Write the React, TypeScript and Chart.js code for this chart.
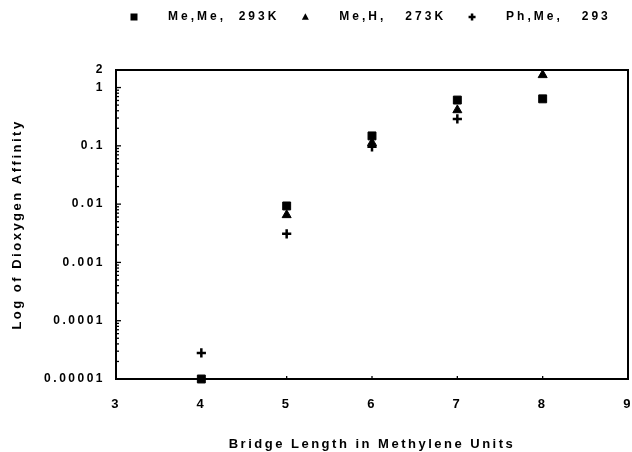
import React, { useEffect, useRef } from 'react';
import { Chart, registerables } from 'chart.js';

Chart.register(...registerables);

// ---- data ----
const bridgeLengths = [4, 5, 6, 7, 8];
const meMe293K: (number | null)[] = [0.00001, 0.0093, 0.148, 0.61, 0.64];
const meH273K: (number | null)[] = [null, 0.0065, 0.112, 0.41, 1.64];
const phMe293: (number | null)[] = [0.000028, 0.0031, 0.096, 0.29, null];
const seriesLabels = ['Me,Me,  293K', 'Me,H,   273K', 'Ph,Me,   293'];
const seriesStyles = ['rect', 'triangle', 'cross'];
const xTickValues = [3, 4, 5, 6, 7, 8, 9];
const yTickValues = [0.00001, 0.0001, 0.001, 0.01, 0.1, 1, 2];
const yTickLabels = ['0.00001', '0.0001', '0.001', '0.01', '0.1', '1', '2'];
const xTitle = 'Bridge Length in Methylene Units';
const yTitle = 'Log of Dioxygen Affinity';

const FONT = '"Liberation Sans", Arial, Helvetica, sans-serif';
const SPACING = '2.5px';

function toPoints(values: (number | null)[]) {
  const pts: { x: number; y: number }[] = [];
  values.forEach((v, i) => {
    if (v !== null) pts.push({ x: bridgeLengths[i], y: v });
  });
  return pts;
}

const spacingPlugin = {
  id: 'letterSpacing',
  beforeUpdate(chart: any) {
    chart.ctx.letterSpacing = SPACING;
  },
  beforeDraw(chart: any) {
    chart.ctx.letterSpacing = SPACING;
  },
};

const framePlugin = {
  id: 'frame',
  beforeDatasetsDraw(chart: any) {
    const { ctx, chartArea: a, scales } = chart;
    ctx.save();
    ctx.strokeStyle = '#000';
    ctx.lineWidth = 2;
    ctx.strokeRect(a.left, a.top, a.right - a.left, a.bottom - a.top);
    const ys = scales.y;
    ctx.lineWidth = 1.3;
    for (let e = -5; e <= 0; e++) {
      for (let m = 1; m <= 9; m++) {
        const v = m * Math.pow(10, e);
        if (v > 2) break;
        const py = ys.getPixelForValue(v);
        const len = m === 1 ? 5 : 3;
        ctx.beginPath();
        ctx.moveTo(a.left, py);
        ctx.lineTo(a.left + len, py);
        ctx.stroke();
      }
    }
    const xs = scales.x;
    xTickValues.forEach((t) => {
      const px = xs.getPixelForValue(t);
      ctx.beginPath();
      ctx.moveTo(px, a.bottom);
      ctx.lineTo(px, a.bottom - 3);
      ctx.stroke();
    });
    ctx.restore();
  },
};

function drawMarker(ctx: CanvasRenderingContext2D, style: string, x: number, y: number, r: number) {
  ctx.beginPath();
  if (style === 'rect') {
    ctx.fillRect(x - r, y - r, 2 * r, 2 * r);
  } else if (style === 'triangle') {
    ctx.moveTo(x, y - r * 1.1);
    ctx.lineTo(x + r, y + r * 0.8);
    ctx.lineTo(x - r, y + r * 0.8);
    ctx.closePath();
    ctx.fill();
  } else {
    ctx.lineWidth = 2.5;
    ctx.moveTo(x - r, y);
    ctx.lineTo(x + r, y);
    ctx.moveTo(x, y - r);
    ctx.lineTo(x, y + r);
    ctx.stroke();
  }
}

const legendPlugin = {
  id: 'customLegend',
  afterDraw(chart: any) {
    const ctx: CanvasRenderingContext2D = chart.ctx;
    ctx.save();
    (ctx as any).letterSpacing = '3px';
    ctx.font = `bold 12px ${FONT}`;
    ctx.fillStyle = '#000';
    ctx.strokeStyle = '#000';
    ctx.textBaseline = 'middle';
    ctx.textAlign = 'left';
    let x = 130;
    const y = 17;
    chart.data.datasets.forEach((ds: any) => {
      drawMarker(ctx, ds.pointStyle, x + 4, y, 3.5);
      const tx = x + 38;
      ctx.fillText(ds.label, tx, y);
      x = tx + ctx.measureText(ds.label).width + 22;
    });
    ctx.restore();
  },
};

export default function App() {
  const ref = useRef<HTMLCanvasElement | null>(null);

  useEffect(() => {
    if (!ref.current) return;
    const series = [meMe293K, meH273K, phMe293];
    const radii = [5.6, 5.2, 4.6];
    const chart = new Chart(ref.current, {
      type: 'scatter',
      data: {
        datasets: series.map((vals, i) => ({
          label: seriesLabels[i],
          data: toPoints(vals),
          pointStyle: seriesStyles[i] as any,
          pointRadius: radii[i],
          pointBackgroundColor: '#000',
          pointBorderColor: '#000',
          pointBorderWidth: i === 2 ? 2.5 : 1,
          showLine: false,
          clip: false as any,
        })),
      },
      options: {
        animation: false,
        responsive: false,
        devicePixelRatio: 1,
        layout: { autoPadding: false, padding: { top: 70, left: 0, right: 4, bottom: 0 } },
        plugins: {
          legend: { display: false },
          tooltip: { enabled: false },
        },
        scales: {
          x: {
            type: 'linear',
            min: 3,
            max: 9,
            grid: {
              display: true,
              drawOnChartArea: false,
              drawTicks: true,
              tickLength: 18,
              color: 'rgba(0,0,0,0)',
            },
            border: { display: false },
            afterBuildTicks: (s: any) => {
              s.ticks = xTickValues.map((v) => ({ value: v }));
            },
            afterFit: (s: any) => {
              s.height = 73;
              s.paddingRight = 0;
              s.paddingLeft = 0;
            },
            ticks: {
              color: '#000',
              padding: 0,
              maxRotation: 0,
              autoSkip: false,
              font: { family: FONT, size: 13, weight: 'bold' },
            },
            title: {
              display: true,
              text: xTitle,
              color: '#000',
              padding: { top: 0, bottom: 0 },
              font: { family: FONT, size: 13, weight: 'bold' },
            },
          },
          y: {
            type: 'logarithmic',
            min: 0.00001,
            max: 2,
            grid: {
              display: true,
              drawOnChartArea: false,
              drawTicks: true,
              tickLength: 11,
              color: 'rgba(0,0,0,0)',
            },
            border: { display: false },
            afterBuildTicks: (s: any) => {
              s.ticks = yTickValues.map((v) => ({ value: v }));
            },
            afterFit: (s: any) => {
              s.width = 116;
            },
            ticks: {
              color: '#000',
              padding: 0,
              autoSkip: false,
              font: { family: FONT, size: 12, weight: 'bold' },
              callback: (value: any) => {
                const idx = yTickValues.findIndex((v) => Math.abs(v - Number(value)) / v < 1e-6);
                return idx >= 0 ? yTickLabels[idx] : '';
              },
            },
            title: {
              display: true,
              text: yTitle,
              color: '#000',
              padding: { top: 10, bottom: 0 },
              font: { family: FONT, size: 13, weight: 'bold' },
            },
          },
        },
      },
      plugins: [spacingPlugin, framePlugin, legendPlugin],
    });
    return () => chart.destroy();
  }, []);

  return (
    <div style={{ position: 'fixed', left: 0, top: 0, width: 632, height: 452, background: '#fff' }}>
      <canvas ref={ref} width={632} height={452} style={{ display: 'block', width: 632, height: 452 }} />
    </div>
  );
}
